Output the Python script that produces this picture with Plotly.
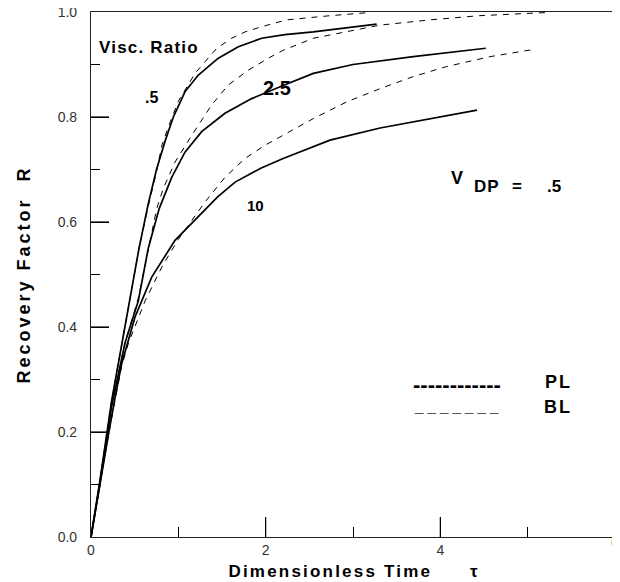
import plotly.graph_objects as go

# ---- data ----
pl_05_x = [0, 0.1, 0.237, 0.35, 0.45, 0.55, 0.656, 0.75, 0.85, 0.943, 1.076, 1.229, 1.458, 1.687, 1.954, 2.22, 2.546, 2.928, 3.27]
pl_05_y = [0, 0.105, 0.26, 0.365, 0.455, 0.55, 0.635, 0.70, 0.755, 0.80, 0.848, 0.880, 0.912, 0.934, 0.950, 0.957, 0.962, 0.970, 0.977]

pl_25_x = [0, 0.1, 0.237, 0.39, 0.542, 0.656, 0.78, 0.924, 1.076, 1.267, 1.534, 1.84, 2.2, 2.546, 3.0, 3.69, 4.42, 4.52]
pl_25_y = [0, 0.1, 0.25, 0.37, 0.45, 0.55, 0.625, 0.685, 0.733, 0.772, 0.807, 0.835, 0.86, 0.883, 0.9, 0.915, 0.929, 0.931]

pl_10_x = [0, 0.1, 0.2, 0.275, 0.351, 0.504, 0.695, 0.962, 1.25, 1.45, 1.65, 1.95, 2.2, 2.737, 3.31, 3.88, 4.42]
pl_10_y = [0, 0.1, 0.195, 0.265, 0.33, 0.419, 0.495, 0.565, 0.615, 0.648, 0.676, 0.703, 0.721, 0.756, 0.779, 0.797, 0.813]

bl_05_x = [0, 0.1, 0.237, 0.35, 0.45, 0.55, 0.656, 0.75, 0.81, 0.885, 1.0, 1.19, 1.305, 1.44, 1.611, 1.763, 1.954, 2.145, 2.24, 2.74, 3.19]
bl_05_y = [0, 0.105, 0.26, 0.365, 0.455, 0.55, 0.63, 0.695, 0.745, 0.781, 0.83, 0.883, 0.905, 0.931, 0.950, 0.962, 0.972, 0.98, 0.985, 0.993, 0.999]

bl_25_x = [0, 0.1, 0.237, 0.39, 0.542, 0.656, 0.752, 0.83, 0.962, 1.153, 1.382, 1.572, 1.80, 2.03, 2.2, 2.546, 2.93, 3.31, 3.88, 4.45, 5.22]
bl_25_y = [0, 0.1, 0.25, 0.37, 0.455, 0.55, 0.625, 0.665, 0.714, 0.765, 0.823, 0.861, 0.889, 0.912, 0.927, 0.950, 0.963, 0.975, 0.985, 0.993, 0.999]

bl_10_x = [0, 0.1, 0.2, 0.35, 0.43, 0.62, 0.81, 1.0, 1.305, 1.534, 1.763, 1.99, 2.2, 2.546, 2.93, 3.31, 3.69, 4.07, 4.57, 5.08]
bl_10_y = [0, 0.1, 0.195, 0.325, 0.37, 0.45, 0.514, 0.567, 0.638, 0.685, 0.721, 0.746, 0.765, 0.797, 0.829, 0.854, 0.877, 0.896, 0.915, 0.929]

x_range = [0, 6]
y_range = [0, 1]
x_tick_labels = [0, 2, 4, 6]
y_tick_labels = [0.0, 0.2, 0.4, 0.6, 0.8, 1.0]
x_minor = 1
y_minor = 0.1

FONT = "Liberation Sans, Arial, sans-serif"

# plot area in pixels (used to turn tick lengths in px into axis units)
PLOT_W, PLOT_H = 524, 525
X_TICK_PX, Y_TICK_PX = 20, 18

fig = go.Figure()

solid = dict(color="black", width=1.7)
dashed = dict(color="black", width=1, dash="6px,6px")

for xs, ys, nm in [(bl_05_x, bl_05_y, "BL .5"), (bl_25_x, bl_25_y, "BL 2.5"), (bl_10_x, bl_10_y, "BL 10")]:
    fig.add_trace(go.Scatter(x=xs, y=ys, mode="lines", line=dashed, name=nm, showlegend=False))
for xs, ys, nm in [(pl_05_x, pl_05_y, "PL .5"), (pl_25_x, pl_25_y, "PL 2.5"), (pl_10_x, pl_10_y, "PL 10")]:
    fig.add_trace(go.Scatter(x=xs, y=ys, mode="lines", line=solid, name=nm, showlegend=False))

# long inside ticks at the labelled positions, built from the tick arrays
xt_len = X_TICK_PX / PLOT_H * (y_range[1] - y_range[0])
yt_len = Y_TICK_PX / PLOT_W * (x_range[1] - x_range[0])
tx, ty = [], []
for v in x_tick_labels[1:-1]:
    tx += [v, v, None]
    ty += [y_range[0], y_range[0] + xt_len, None]
for v in y_tick_labels[1:-1]:
    tx += [x_range[0], x_range[0] + yt_len, None]
    ty += [v, v, None]
fig.add_trace(go.Scatter(x=tx, y=ty, mode="lines", line=dict(color="black", width=1.2),
                         showlegend=False, hoverinfo="skip", name="ticks"))

# last x tick label (sits on the right frame edge, where plotly drops it)
fig.add_trace(go.Scatter(x=[x_tick_labels[-1]], y=[y_range[0]], mode="text",
                         text=[str(x_tick_labels[-1])], textposition="bottom center",
                         textfont=dict(family=FONT, size=14, color="#333"),
                         cliponaxis=False, showlegend=False, hoverinfo="skip"))


def sp(t, ls):
    return f'<span style="letter-spacing:{ls}px">{t}</span>'


def ann(x, y, text, size, xanchor="center", yanchor="middle", bold=True, color="black", ls=0):
    t = sp(text, ls) if ls else text
    fig.add_annotation(x=x, y=y, xref="x", yref="y", text=t, showarrow=False,
                       xanchor=xanchor, yanchor=yanchor,
                       font=dict(family=FONT, size=size, color=color, weight="bold" if bold else "normal"))


ann(0.07, 0.933, "Visc. Ratio", 17, xanchor="left", ls=1.2)
ann(0.69, 0.838, ".5", 16)
ann(2.13, 0.855, "2.5", 20)
ann(1.88, 0.632, "10", 15)
ann(4.19, 0.684, "V", 18)
ann(4.36, 0.668, "DP", 17, xanchor="left", ls=1)
ann(4.88, 0.668, "=", 17)
ann(5.2, 0.668, ".5", 17, xanchor="left")
ann(3.66, 0.29, "------------", 22, xanchor="left")
ann(5.18, 0.295, "PL", 18, xanchor="left", ls=2)
ann(3.67, 0.25, "_ _ _ _ _ _ _", 15, xanchor="left", bold=False, color="#555")
ann(5.16, 0.248, "BL", 18, xanchor="left", ls=2)

# page body has an 8px margin: the figure starts at (8, 8) in the window
fig.update_layout(
    width=620, height=574,
    margin=dict(l=83, r=13, t=4, b=45, autoexpand=False),
    paper_bgcolor="white", plot_bgcolor="white",
    showlegend=False,
    font=dict(family=FONT, color="black"),
)

ts = dict(tickwidth=1.2, tickcolor="black")
xtitle = "\u00a0" * 10 + sp("Dimensionless Time", 2.2) + "        τ"

fig.update_layout(
    xaxis=dict(
        range=x_range, tickmode="array", tickvals=x_tick_labels[:-1],
        ticktext=[str(v) for v in x_tick_labels[:-1]],
        ticks="inside", ticklen=20, **ts,
        minor=dict(tickmode="linear", tick0=0, dtick=x_minor, ticks="inside", ticklen=10, showgrid=False, **ts),
        showline=True, linecolor="#222", linewidth=1.2, mirror=True,
        showgrid=False, zeroline=False, automargin=False, ticklabeloverflow="allow",
        tickfont=dict(family=FONT, size=14, color="#333"),
        title=dict(text=xtitle, standoff=8,
                   font=dict(family=FONT, size=17, weight="bold", color="black")),
    ),
    yaxis=dict(
        range=y_range, tickmode="array", tickvals=y_tick_labels,
        ticktext=[f"{v:.1f}" for v in y_tick_labels],
        ticks="inside", ticklen=18, **ts,
        minor=dict(tickmode="linear", tick0=0, dtick=y_minor, ticks="inside", ticklen=9, showgrid=False, **ts),
        showline=True, linecolor="#222", linewidth=1.2, mirror=True,
        showgrid=False, zeroline=False, automargin=False, ticklabeloverflow="allow",
        ticklabelstandoff=10,
        tickfont=dict(family=FONT, size=14, color="#333"),
        title=dict(text=sp("Recovery Factor  R", 3), standoff=22,
                   font=dict(family=FONT, size=18, weight="bold", color="black")),
    ),
)

fig.write_html("out.html")
